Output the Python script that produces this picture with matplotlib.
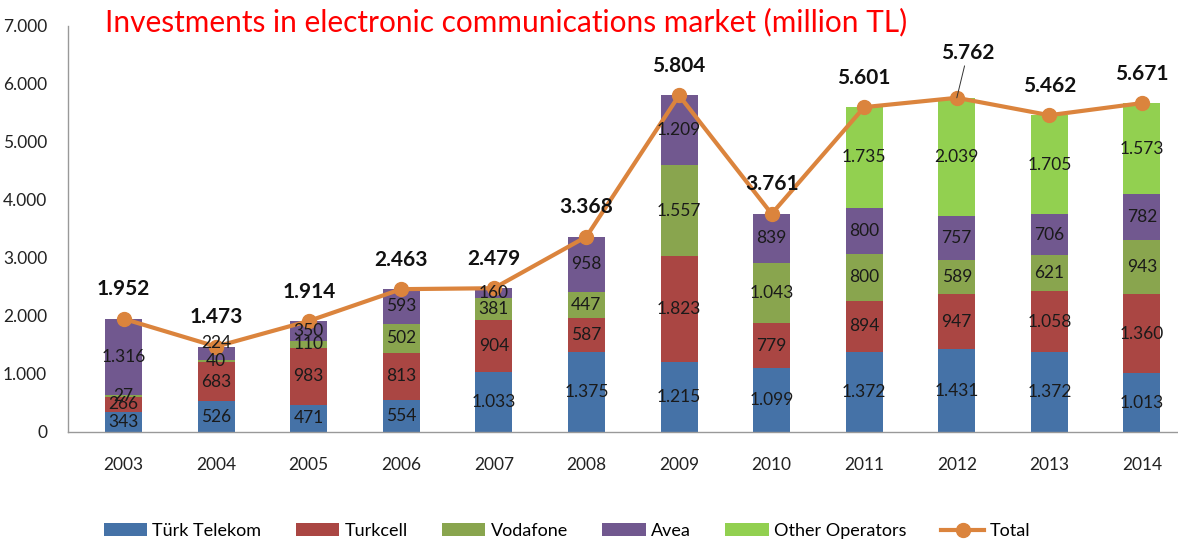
import numpy as np
import matplotlib
matplotlib.use('Agg')
import matplotlib.pyplot as plt

plt.rcParams['font.family'] = ['Lato', 'DejaVu Sans']

# donnees (million TL)
years = ['2003', '2004', '2005', '2006', '2007', '2008', '2009', '2010', '2011', '2012', '2013', '2014']
turk_telekom = [343, 526, 471, 554, 1033, 1375, 1215, 1099, 1372, 1431, 1372, 1013]
turkcell = [266, 683, 983, 813, 904, 587, 1823, 779, 894, 947, 1058, 1360]
vodafone = [27, 40, 110, 502, 381, 447, 1557, 1043, 800, 589, 621, 943]
avea = [1316, 224, 350, 593, 160, 958, 1209, 839, 800, 757, 706, 782]
other_ops = [0, 0, 0, 0, 0, 0, 0, 0, 1735, 2039, 1705, 1573]
total = [1952, 1473, 1914, 2463, 2479, 3368, 5804, 3761, 5601, 5762, 5462, 5671]

series = [
    ('Türk Telekom', turk_telekom, '#4572A7'),
    ('Turkcell', turkcell, '#AA4643'),
    ('Vodafone', vodafone, '#89A54E'),
    ('Avea', avea, '#71588F'),
    ('Other Operators', other_ops, '#92D050'),
]

def fmt(v):
    return f'{v:,}'.replace(',', '.')

fig = plt.figure(figsize=(11.78, 5.42), dpi=100)
ax = fig.add_axes([68 / 1178, 110 / 542, 1 - 68 / 1178, (432 - 26) / 542])

x = np.arange(len(years))
bottom = np.zeros(len(years))
handles = []
for name, vals, col in series:
    vals = np.array(vals, dtype=float)
    h = ax.bar(x, vals, width=0.4, bottom=bottom, color=col, label=name, zorder=2)
    handles.append(h)
    for xi, b, v in zip(x, bottom, vals):
        if v > 0:
            dy = 0
            # petit decalage comme dans l'original (2004, Avea)
            if name == 'Avea' and years[xi] == '2004':
                dy = 7
            ax.annotate(fmt(int(v)), xy=(xi, b + v / 2), xytext=(0, dy),
                        textcoords='offset points', ha='center', va='center',
                        fontsize=12.5, color='#1a1a1a', zorder=4)
    bottom += vals

ln, = ax.plot(x, total, color='#DB843D', lw=3, marker='o', markersize=10,
              label='Total', zorder=3)
handles.append(ln)

# etiquettes des totaux (2012 decale avec un trait)
for i, t in enumerate(total):
    if years[i] == '2012':
        ax.annotate(fmt(t), xy=(x[i], t), xytext=(8, 25), textcoords='offset points',
                    ha='center', va='bottom', fontsize=15, fontweight='bold',
                    color='#111111', zorder=5,
                    arrowprops=dict(arrowstyle='-', color='#333333', lw=0.7,
                                    shrinkA=0, shrinkB=0, relpos=(0.45, 0)))
    else:
        ax.annotate(fmt(t), xy=(x[i], t), xytext=(0, 14), textcoords='offset points',
                    ha='center', va='bottom', fontsize=15, fontweight='bold',
                    color='#111111', zorder=5)

ax.set_xlim(-0.6, 11 + 36 / 92.5)
ax.set_ylim(0, 7000)
ax.set_yticks(range(0, 7001, 1000))
ax.set_yticklabels([fmt(v) for v in range(0, 7001, 1000)])
ax.set_xticks(x)
ax.set_xticklabels(years)
ax.tick_params(axis='both', length=0, labelsize=12.5, colors='#222222')
ax.tick_params(axis='y', pad=15)
ax.tick_params(axis='x', pad=18)
for s in ['top', 'right']:
    ax.spines[s].set_visible(False)
for s in ['left', 'bottom']:
    ax.spines[s].set_color('#999999')
    ax.spines[s].set_linewidth(1)

fig.text(105 / 1178, 1 - 22 / 542, 'Investments in electronic communications market (million TL)',
         color='#FF0000', fontsize=21.5, ha='left', va='center')

fig.legend(handles=handles, labels=[h.get_label() for h in handles],
           loc='center', bbox_to_anchor=(567 / 1178, 11 / 542), ncol=6, frameon=False,
           fontsize=13, handlelength=2.4, handleheight=0.7, columnspacing=1.9,
           handletextpad=0.3)

fig.savefig('out.png', dpi=100)
